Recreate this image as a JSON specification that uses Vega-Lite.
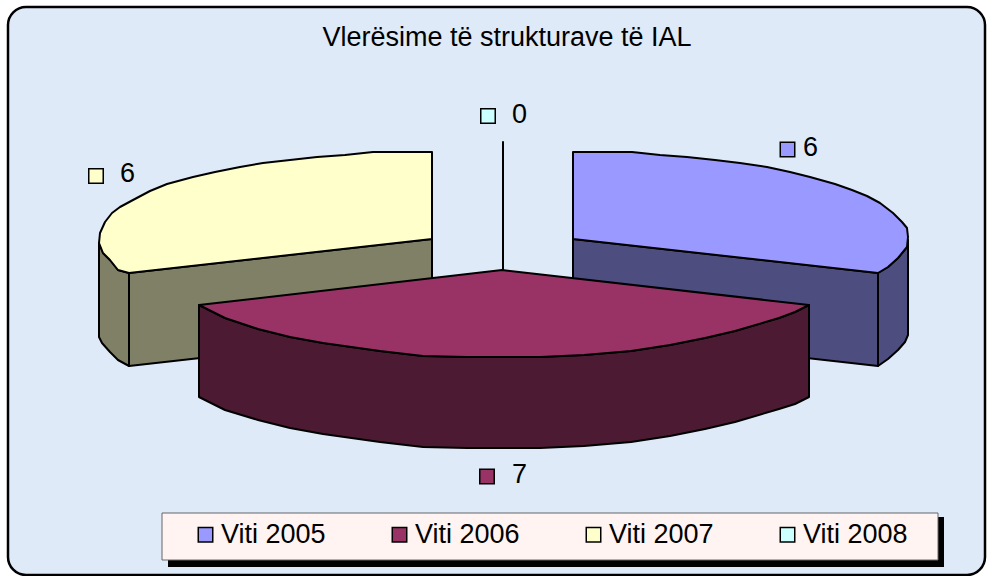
{"$schema":"https://vega.github.io/schema/vega-lite/v6.json","width":992,"height":576,"padding":0,"autosize":"none","background":"#ffffff","view":{"stroke":null},
"title":{"text":"Vlerësime të strukturave të IAL","orient":"top","anchor":"middle","offset":-52,"dx":11,"font":"Liberation Sans","fontSize":27,"fontWeight":"normal","color":"#000000"},
"datasets":{
"panels":[{"panel":"frame","x":8,"x2":985,"y":7,"y2":575},{"panel":"shadow","x":168,"x2":944,"y":517,"y2":567},{"panel":"legend","x":162,"x2":938,"y":513,"y2":560}],
"outline":[
{"part":"stem","n":1,"x":503,"y":142},{"part":"stem","n":2,"x":503,"y":270},
{"part":"2005 inner","n":1,"x":573,"y":239},{"part":"2005 inner","n":2,"x":878,"y":273},{"part":"2005 inner","n":3,"x":878,"y":366},{"part":"2005 inner","n":4,"x":573,"y":332},
{"part":"2005 outer","n":1,"x":878,"y":273},{"part":"2005 outer","n":2,"x":888,"y":267},{"part":"2005 outer","n":3,"x":898,"y":258},{"part":"2005 outer","n":4,"x":907,"y":247},{"part":"2005 outer","n":5,"x":908,"y":240},{"part":"2005 outer","n":6,"x":908,"y":335},{"part":"2005 outer","n":7,"x":905,"y":342},{"part":"2005 outer","n":8,"x":898,"y":350},{"part":"2005 outer","n":9,"x":888,"y":359},{"part":"2005 outer","n":10,"x":878,"y":366},
{"part":"2005 top","n":1,"x":573,"y":152},{"part":"2005 top","n":2,"x":632,"y":152},{"part":"2005 top","n":3,"x":660,"y":155},{"part":"2005 top","n":4,"x":687,"y":157},{"part":"2005 top","n":5,"x":715,"y":160},{"part":"2005 top","n":6,"x":740,"y":163},{"part":"2005 top","n":7,"x":767,"y":167},{"part":"2005 top","n":8,"x":790,"y":172},{"part":"2005 top","n":9,"x":810,"y":177},{"part":"2005 top","n":10,"x":835,"y":184},{"part":"2005 top","n":11,"x":852,"y":190},{"part":"2005 top","n":12,"x":867,"y":196},{"part":"2005 top","n":13,"x":880,"y":203},{"part":"2005 top","n":14,"x":893,"y":213},{"part":"2005 top","n":15,"x":902,"y":222},{"part":"2005 top","n":16,"x":907,"y":228},{"part":"2005 top","n":17,"x":908,"y":237},{"part":"2005 top","n":18,"x":907,"y":247},{"part":"2005 top","n":19,"x":898,"y":258},{"part":"2005 top","n":20,"x":888,"y":267},{"part":"2005 top","n":21,"x":878,"y":273},{"part":"2005 top","n":22,"x":573,"y":239},
{"part":"2007 inner","n":1,"x":129,"y":273},{"part":"2007 inner","n":2,"x":432,"y":239},{"part":"2007 inner","n":3,"x":432,"y":332},{"part":"2007 inner","n":4,"x":129,"y":366},
{"part":"2007 outer","n":1,"x":99,"y":243},{"part":"2007 outer","n":2,"x":103,"y":253},{"part":"2007 outer","n":3,"x":110,"y":260},{"part":"2007 outer","n":4,"x":118,"y":270},{"part":"2007 outer","n":5,"x":129,"y":273},{"part":"2007 outer","n":6,"x":129,"y":366},{"part":"2007 outer","n":7,"x":118,"y":360},{"part":"2007 outer","n":8,"x":110,"y":352},{"part":"2007 outer","n":9,"x":102,"y":343},{"part":"2007 outer","n":10,"x":99,"y":337},
{"part":"2007 top","n":1,"x":432,"y":152},{"part":"2007 top","n":2,"x":373,"y":152},{"part":"2007 top","n":3,"x":345,"y":155},{"part":"2007 top","n":4,"x":317,"y":157},{"part":"2007 top","n":5,"x":290,"y":160},{"part":"2007 top","n":6,"x":263,"y":163},{"part":"2007 top","n":7,"x":240,"y":167},{"part":"2007 top","n":8,"x":215,"y":172},{"part":"2007 top","n":9,"x":193,"y":177},{"part":"2007 top","n":10,"x":167,"y":184},{"part":"2007 top","n":11,"x":150,"y":191},{"part":"2007 top","n":12,"x":133,"y":200},{"part":"2007 top","n":13,"x":120,"y":207},{"part":"2007 top","n":14,"x":112,"y":213},{"part":"2007 top","n":15,"x":105,"y":222},{"part":"2007 top","n":16,"x":100,"y":233},{"part":"2007 top","n":17,"x":99,"y":243},{"part":"2007 top","n":18,"x":103,"y":253},{"part":"2007 top","n":19,"x":110,"y":260},{"part":"2007 top","n":20,"x":118,"y":270},{"part":"2007 top","n":21,"x":129,"y":273},{"part":"2007 top","n":22,"x":432,"y":239},
{"part":"2006 wall","n":1,"x":199,"y":305},{"part":"2006 wall","n":2,"x":225,"y":318},{"part":"2006 wall","n":3,"x":258,"y":329},{"part":"2006 wall","n":4,"x":290,"y":337},{"part":"2006 wall","n":5,"x":323,"y":343},{"part":"2006 wall","n":6,"x":380,"y":351},{"part":"2006 wall","n":7,"x":423,"y":356},{"part":"2006 wall","n":8,"x":467,"y":357},{"part":"2006 wall","n":9,"x":540,"y":357},{"part":"2006 wall","n":10,"x":584,"y":355},{"part":"2006 wall","n":11,"x":631,"y":351},{"part":"2006 wall","n":12,"x":670,"y":345},{"part":"2006 wall","n":13,"x":705,"y":338},{"part":"2006 wall","n":14,"x":735,"y":331},{"part":"2006 wall","n":15,"x":779,"y":318},{"part":"2006 wall","n":16,"x":795,"y":312},{"part":"2006 wall","n":17,"x":809,"y":305},{"part":"2006 wall","n":18,"x":809,"y":397},{"part":"2006 wall","n":19,"x":795,"y":404},{"part":"2006 wall","n":20,"x":779,"y":409},{"part":"2006 wall","n":21,"x":735,"y":422},{"part":"2006 wall","n":22,"x":705,"y":429},{"part":"2006 wall","n":23,"x":670,"y":436},{"part":"2006 wall","n":24,"x":631,"y":442},{"part":"2006 wall","n":25,"x":584,"y":446},{"part":"2006 wall","n":26,"x":540,"y":448},{"part":"2006 wall","n":27,"x":467,"y":448},{"part":"2006 wall","n":28,"x":423,"y":447},{"part":"2006 wall","n":29,"x":380,"y":442},{"part":"2006 wall","n":30,"x":323,"y":434},{"part":"2006 wall","n":31,"x":290,"y":428},{"part":"2006 wall","n":32,"x":258,"y":420},{"part":"2006 wall","n":33,"x":225,"y":410},{"part":"2006 wall","n":34,"x":199,"y":397},
{"part":"2006 top","n":1,"x":502,"y":270},{"part":"2006 top","n":2,"x":809,"y":305},{"part":"2006 top","n":3,"x":795,"y":312},{"part":"2006 top","n":4,"x":779,"y":318},{"part":"2006 top","n":5,"x":735,"y":331},{"part":"2006 top","n":6,"x":705,"y":338},{"part":"2006 top","n":7,"x":670,"y":345},{"part":"2006 top","n":8,"x":631,"y":351},{"part":"2006 top","n":9,"x":584,"y":355},{"part":"2006 top","n":10,"x":540,"y":357},{"part":"2006 top","n":11,"x":467,"y":357},{"part":"2006 top","n":12,"x":423,"y":356},{"part":"2006 top","n":13,"x":380,"y":351},{"part":"2006 top","n":14,"x":323,"y":343},{"part":"2006 top","n":15,"x":290,"y":337},{"part":"2006 top","n":16,"x":258,"y":329},{"part":"2006 top","n":17,"x":225,"y":318},{"part":"2006 top","n":18,"x":199,"y":305}
],
"labels":[{"series":"Viti 2005","value":6,"kx":787.5,"ky":149.5,"tx":803,"ty":148},{"series":"Viti 2006","value":7,"kx":487,"ky":476.5,"tx":512,"ty":475},{"series":"Viti 2007","value":6,"kx":96,"ky":176,"tx":120,"ty":174},{"series":"Viti 2008","value":0,"kx":488,"ky":116,"tx":512,"ty":115}]
},
"encoding":{},
"layer":[
{"data":{"name":"panels"},"transform":[{"filter":"datum.panel==='frame'"}],"mark":{"type":"rect","fill":"#deeaf8","stroke":"#000000","strokeWidth":2.5,"cornerRadius":18},"encoding":{"x":{"field":"x","type":"quantitative","scale":{"domain":[0,992],"nice":false},"axis":null},"x2":{"field":"x2"},"y":{"field":"y","type":"quantitative","scale":{"domain":[576,0],"nice":false},"axis":null},"y2":{"field":"y2"}}},
{"data":{"name":"outline"},"mark":{"type":"line","interpolate":"linear-closed","stroke":"#000000","strokeWidth":2,"strokeJoin":"round"},"encoding":{"x":{"field":"x","type":"quantitative"},"y":{"field":"y","type":"quantitative"},"order":{"field":"n","type":"quantitative"},"fill":{"field":"part","type":"nominal","legend":null,"scale":{"domain":["stem","2005 inner","2005 outer","2005 top","2007 inner","2007 outer","2007 top","2006 wall","2006 top"],"range":["#000000","#4d4d80","#4d4d80","#9999ff","#808066","#808066","#ffffcc","#4d1a33","#993366"]}}}},
{"data":{"name":"panels"},"transform":[{"filter":"datum.panel==='shadow'"}],"mark":{"type":"rect","fill":"#000000"},"encoding":{"x":{"field":"x","type":"quantitative"},"x2":{"field":"x2"},"y":{"field":"y","type":"quantitative"},"y2":{"field":"y2"}}},
{"data":{"name":"panels"},"transform":[{"filter":"datum.panel==='legend'"}],"mark":{"type":"rect","fill":"#fff4f2","stroke":"#666666","strokeWidth":1},"encoding":{"x":{"field":"x","type":"quantitative"},"x2":{"field":"x2"},"y":{"field":"y","type":"quantitative"},"y2":{"field":"y2"}}},
{"data":{"name":"labels"},"mark":{"type":"point","shape":"square","filled":true,"size":210,"stroke":"#000000","strokeWidth":1.5,"opacity":1},"encoding":{"x":{"field":"kx","type":"quantitative"},"y":{"field":"ky","type":"quantitative"},"color":{"field":"series","type":"nominal","scale":{"domain":["Viti 2005","Viti 2006","Viti 2007","Viti 2008"],"range":["#9999ff","#993366","#ffffcc","#ccffff"]},"legend":{"title":null,"orient":"none","legendX":192,"legendY":521,"direction":"horizontal","columns":4,"columnPadding":60,"symbolType":"square","symbolSize":210,"symbolStrokeColor":"#000000","symbolStrokeWidth":1.5,"symbolOpacity":1,"labelFont":"Liberation Sans","labelFontSize":27,"labelColor":"#000000","labelOffset":2,"labelLimit":200}}}},
{"data":{"name":"labels"},"mark":{"type":"text","font":"Liberation Sans","fontSize":27,"align":"left","baseline":"middle","color":"#000000"},"encoding":{"x":{"field":"tx","type":"quantitative"},"y":{"field":"ty","type":"quantitative"},"text":{"field":"value","type":"quantitative"}}}
]}
